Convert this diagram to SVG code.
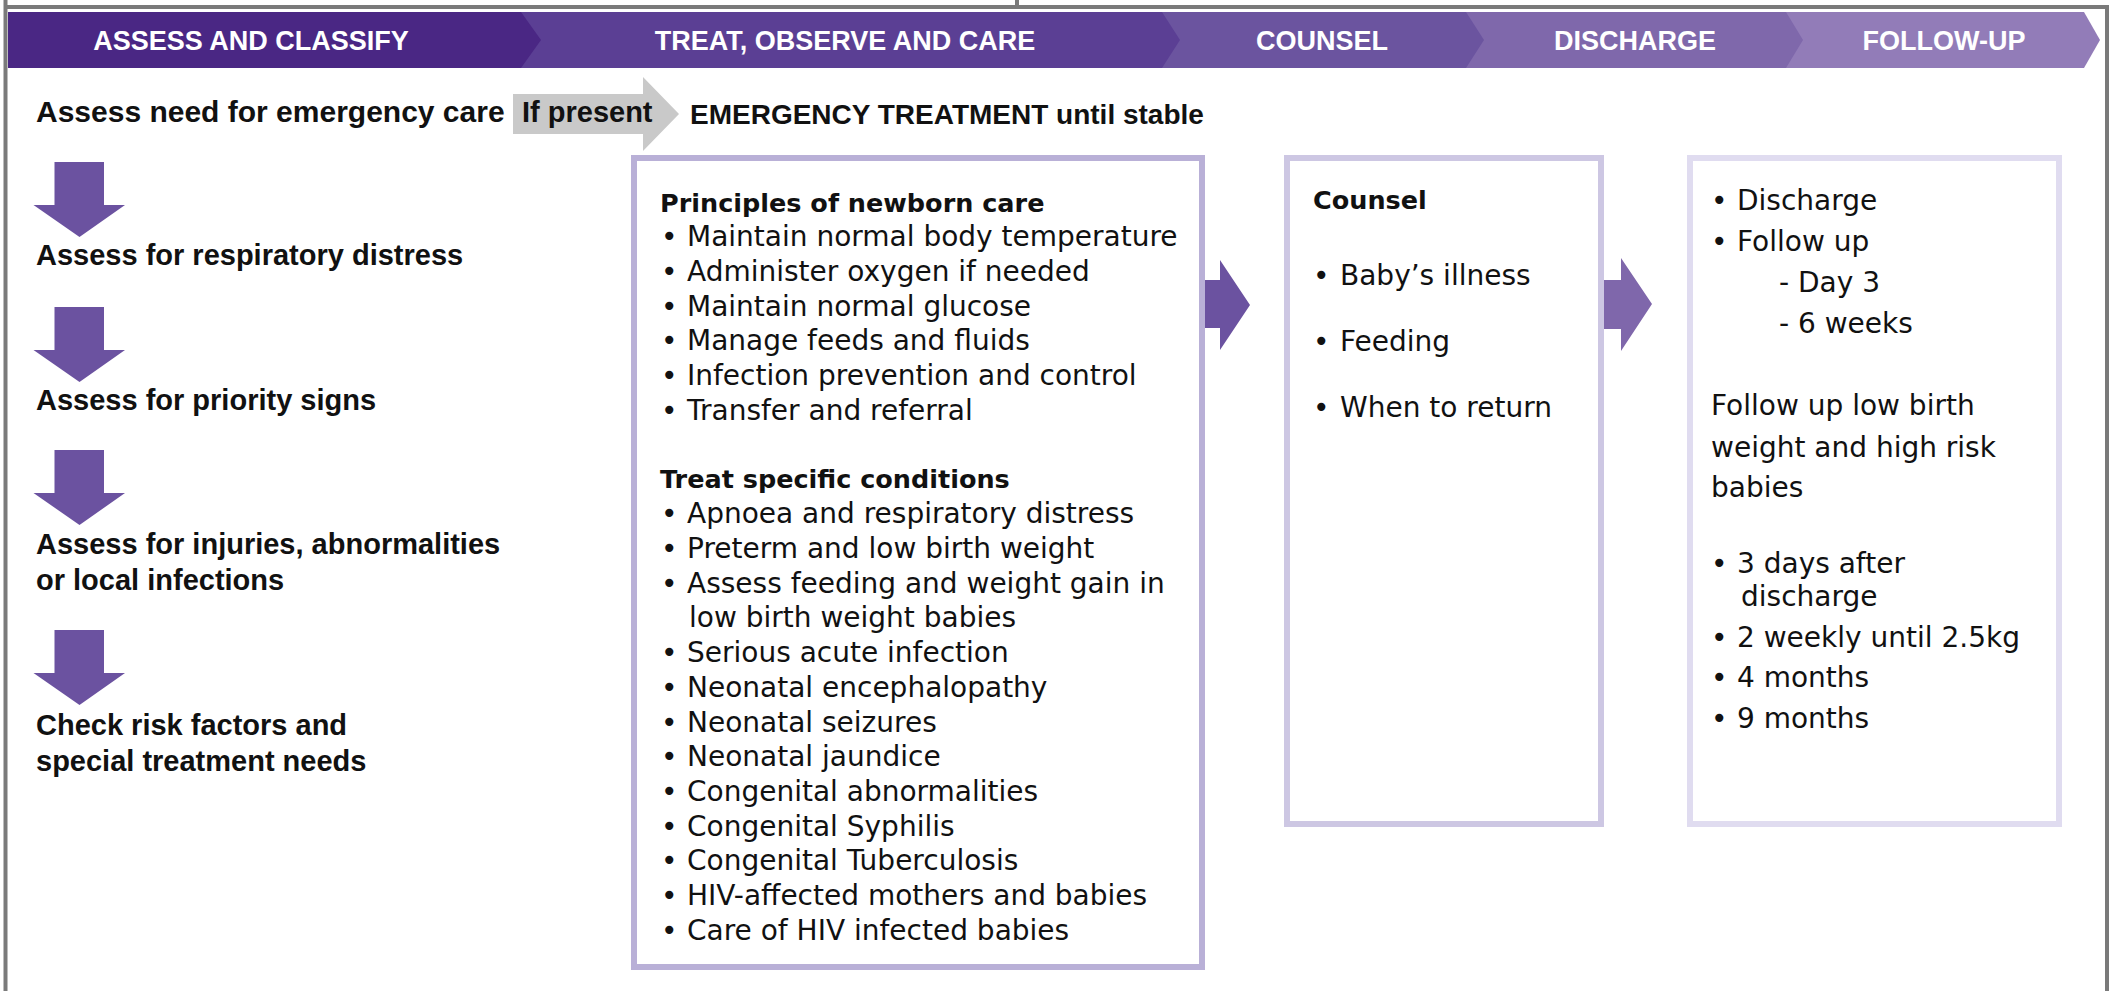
<svg xmlns="http://www.w3.org/2000/svg" width="2114" height="991" viewBox="0 0 2114 991">
<style>
.frame{fill:none;stroke:#7a7a7a;stroke-width:4}
.hdr{font-family:"Liberation Sans",Arial,sans-serif;font-weight:bold;font-size:27px;fill:#ffffff;text-anchor:middle}
.lb{font-family:"Liberation Sans",Arial,sans-serif;font-weight:bold;font-size:29px;fill:#111111}
.bh{font-family:"DejaVu Sans",sans-serif;font-weight:bold;font-size:25.5px;fill:#111111}
.bt{font-family:"DejaVu Sans",sans-serif;font-size:28px;fill:#111111}
.rt{font-family:"DejaVu Sans",sans-serif;font-size:28px;fill:#111111}
.box{fill:#ffffff;stroke-width:6}
.down{fill:#6b52a0}
</style>
<defs>
<path id="downArrow" d="M54.5,0 H104 V43 H125 L79.5,75 L33.5,43 H54.5 Z"/>
</defs>
<rect x="0" y="0" width="2114" height="991" fill="#ffffff"/>
<g id="frame">
<line class="frame" x1="5.5" y1="0" x2="5.5" y2="991"/>
<line class="frame" x1="4" y1="7" x2="2109" y2="7"/>
<line class="frame" x1="2107" y1="5" x2="2107" y2="991"/>
<line class="frame" x1="1017" y1="0" x2="1017" y2="7"/>
</g>
<g id="header">
<polygon fill="#927cb8" points="1780,12 2084,12 2100,40 2084,68 1780,68"/>
<polygon fill="#7f68ab" points="1460,12 1786,12 1803,40 1786,68 1460,68"/>
<polygon fill="#6b549f" points="1150,12 1466,12 1484,40 1466,68 1150,68"/>
<polygon fill="#5b3f94" points="510,12 1162,12 1180,40 1162,68 510,68"/>
<polygon fill="#4a2784" points="8,12 521,12 541,40 521,68 8,68"/>
<text class="hdr" x="251" y="50">ASSESS AND CLASSIFY</text>
<text class="hdr" x="845" y="50">TREAT, OBSERVE AND CARE</text>
<text class="hdr" x="1322" y="50">COUNSEL</text>
<text class="hdr" x="1635" y="50">DISCHARGE</text>
<text class="hdr" x="1944" y="50">FOLLOW-UP</text>
</g>
<g id="connectors">
<polygon fill="#c9c9c9" points="513,94 643,94 643,77 679,114 643,151 643,134 513,134"/>
<text class="lb" x="522" y="122">If present</text>
<use href="#downArrow" class="down" transform="translate(0,162)"/>
<use href="#downArrow" class="down" transform="translate(0,307)"/>
<use href="#downArrow" class="down" transform="translate(0,450)"/>
<use href="#downArrow" class="down" transform="translate(0,630)"/>
<polygon fill="#6b52a0" points="1203,280 1220,280 1220,260 1250,305 1220,350 1220,328 1203,328"/>
<polygon fill="#7f67ab" points="1604,280 1621,280 1621,258 1652,304 1621,351 1621,329 1604,329"/>
</g>
<g id="step-emergency">
<text class="lb" x="36" y="122" style="font-size:30px">Assess need for emergency care</text>
</g>
<g id="emergency-treatment">
<text class="lb" x="690" y="124" style="font-size:28px">EMERGENCY TREATMENT until stable</text>
</g>
<g id="step-respiratory">
<text class="lb" x="36" y="265">Assess for respiratory distress</text>
</g>
<g id="step-priority">
<text class="lb" x="36" y="410">Assess for priority signs</text>
</g>
<g id="step-injuries">
<text class="lb" x="36" y="554">Assess for injuries, abnormalities</text>
<text class="lb" x="36" y="590">or local infections</text>
</g>
<g id="step-risk">
<text class="lb" x="36" y="735">Check risk factors and</text>
<text class="lb" x="36" y="771">special treatment needs</text>
</g>
<g id="treat-box">
<rect class="box" x="634" y="158" width="568" height="809" stroke="#b9b0d7"/>
<text class="bh" x="660" y="212">Principles of newborn care</text>
<g class="bt">
<text y="246"><tspan x="661">•</tspan><tspan x="687">Maintain normal body temperature</tspan></text>
<text y="281"><tspan x="661">•</tspan><tspan x="687">Administer oxygen if needed</tspan></text>
<text y="316"><tspan x="661">•</tspan><tspan x="687">Maintain normal glucose</tspan></text>
<text y="350"><tspan x="661">•</tspan><tspan x="687">Manage feeds and fluids</tspan></text>
<text y="385"><tspan x="661">•</tspan><tspan x="687">Infection prevention and control</tspan></text>
<text y="420"><tspan x="661">•</tspan><tspan x="687">Transfer and referral</tspan></text>
</g>
<text class="bh" x="660" y="488">Treat specific conditions</text>
<g class="bt">
<text y="523"><tspan x="661">•</tspan><tspan x="687">Apnoea and respiratory distress</tspan></text>
<text y="558"><tspan x="661">•</tspan><tspan x="687">Preterm and low birth weight</tspan></text>
<text y="593"><tspan x="661">•</tspan><tspan x="687">Assess feeding and weight gain in</tspan></text>
<text x="689" y="627">low birth weight babies</text>
<text y="662"><tspan x="661">•</tspan><tspan x="687">Serious acute infection</tspan></text>
<text y="697"><tspan x="661">•</tspan><tspan x="687">Neonatal encephalopathy</tspan></text>
<text y="732"><tspan x="661">•</tspan><tspan x="687">Neonatal seizures</tspan></text>
<text y="766"><tspan x="661">•</tspan><tspan x="687">Neonatal jaundice</tspan></text>
<text y="801"><tspan x="661">•</tspan><tspan x="687">Congenital abnormalities</tspan></text>
<text y="836"><tspan x="661">•</tspan><tspan x="687">Congenital Syphilis</tspan></text>
<text y="870"><tspan x="661">•</tspan><tspan x="687">Congenital Tuberculosis</tspan></text>
<text y="905"><tspan x="661">•</tspan><tspan x="687">HIV-affected mothers and babies</tspan></text>
<text y="940"><tspan x="661">•</tspan><tspan x="687">Care of HIV infected babies</tspan></text>
</g>
</g>
<g id="counsel-box">
<rect class="box" x="1287" y="158" width="314" height="666" stroke="#cdc7e3"/>
<text class="bh" x="1313" y="209">Counsel</text>
<g class="rt">
<text y="285"><tspan x="1313">•</tspan><tspan x="1340">Baby’s illness</tspan></text>
<text y="351"><tspan x="1313">•</tspan><tspan x="1340">Feeding</tspan></text>
<text y="417"><tspan x="1313">•</tspan><tspan x="1340">When to return</tspan></text>
</g>
</g>
<g id="followup-box">
<rect class="box" x="1690" y="158" width="369" height="666" stroke="#e0dcf0"/>
<g class="rt">
<text y="210"><tspan x="1711">•</tspan><tspan x="1737">Discharge</tspan></text>
<text y="251"><tspan x="1711">•</tspan><tspan x="1737">Follow up</tspan></text>
<text x="1779" y="292">- Day 3</text>
<text x="1779" y="333">- 6 weeks</text>
<text x="1711" y="415">Follow up low birth</text>
<text x="1711" y="457">weight and high risk</text>
<text x="1711" y="497">babies</text>
<text y="573"><tspan x="1711">•</tspan><tspan x="1737">3 days after</tspan></text>
<text x="1741" y="606">discharge</text>
<text y="647"><tspan x="1711">•</tspan><tspan x="1737">2 weekly until 2.5kg</tspan></text>
<text y="687"><tspan x="1711">•</tspan><tspan x="1737">4 months</tspan></text>
<text y="728"><tspan x="1711">•</tspan><tspan x="1737">9 months</tspan></text>
</g>
</g>
</svg>
